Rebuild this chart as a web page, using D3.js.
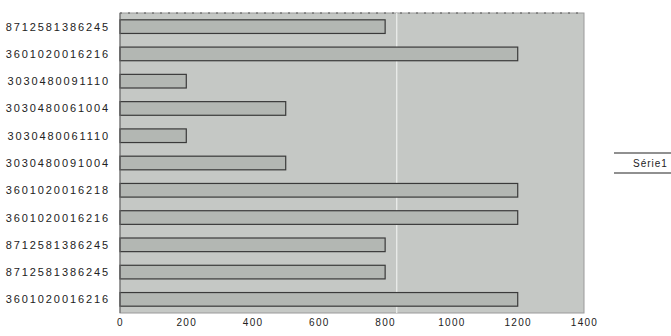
<!DOCTYPE html>
<html>
<head>
<meta charset="utf-8">
<script src="https://cdn.jsdelivr.net/npm/d3@7"></script>
<style>
  body { margin: 0; background: #fff; }
  text { font-family: "Liberation Sans", Arial, sans-serif; fill: #222; }
</style>
</head>
<body>
<script>
// data
var codes = ["8712581386245", "3601020016216", "3030480091110", "3030480061004",
             "3030480061110", "3030480091004", "3601020016218", "3601020016216",
             "8712581386245", "8712581386245", "3601020016216"];
var values = [800, 1200, 200, 500, 200, 500, 1200, 1200, 800, 800, 1200];
var xTicks = [0, 200, 400, 600, 800, 1000, 1200, 1400];
var seriesName = "Série1";

var width = 671, height = 336;
var plot = {left: 120, right: 584, top: 13, bottom: 313};

var svg = d3.select("body").append("svg")
  .attr("width", width)
  .attr("height", height);

var x = d3.scaleLinear().domain([0, 1400]).range([plot.left, plot.right]);
var y = d3.scaleBand()
  .domain(d3.range(codes.length))
  .range([plot.top, plot.bottom])
  .paddingInner(0.5)
  .paddingOuter(0.25);

// plot area
svg.append("rect")
  .attr("x", plot.left).attr("y", plot.top)
  .attr("width", plot.right - plot.left)
  .attr("height", plot.bottom - plot.top)
  .style("fill", "#c5c8c5")
  .style("stroke", "#9a9a9a")
  .style("stroke-width", 1);

// top border looks dotted in the scan
svg.append("line")
  .attr("x1", plot.left).attr("x2", plot.right)
  .attr("y1", plot.top).attr("y2", plot.top)
  .style("stroke", "#555")
  .style("stroke-dasharray", "2,6");

// scanner streak
svg.append("line")
  .attr("x1", x(835)).attr("x2", x(835))
  .attr("y1", plot.top).attr("y2", plot.bottom)
  .style("stroke", "#eef0ee")
  .style("stroke-width", 1.2);

// bars
svg.append("g").selectAll("rect")
  .data(values)
  .enter()
  .append("rect")
  .attr("x", x(0))
  .attr("y", (d, i) => y(i))
  .attr("width", d => x(d) - x(0))
  .attr("height", y.bandwidth())
  .style("fill", "#b3b7b3")
  .style("stroke", "#3a3a3a")
  .style("stroke-width", 1.2);

// left axis line
svg.append("line")
  .attr("x1", plot.left).attr("x2", plot.left)
  .attr("y1", plot.top).attr("y2", plot.bottom)
  .style("stroke", "#666");

// category labels
svg.append("g").selectAll("text")
  .data(codes)
  .enter()
  .append("text")
  .attr("x", 110)
  .attr("y", (d, i) => y(i) + y.bandwidth() / 2)
  .attr("dy", "0.36em")
  .attr("text-anchor", "end")
  .style("font-size", "11px")
  .style("letter-spacing", "1.9px")
  .text(d => d);

// x axis
var xAxis = d3.axisBottom(x).tickValues(xTicks).tickFormat(d3.format("d"))
  .tickSize(0).tickPadding(0);
var gx = svg.append("g")
  .attr("transform", "translate(0," + (plot.bottom + 4) + ")")
  .call(xAxis);
gx.select(".domain").remove();
gx.selectAll("text")
  .attr("y", 2)
  .attr("dy", "0.71em")
  .style("font-size", "10px")
  .style("letter-spacing", "1.3px")
  .style("font-family", "\"Liberation Sans\", Arial, sans-serif")
  .style("fill", "#222");

// legend
var legend = svg.append("g").attr("transform", "translate(614,153)");
legend.append("line")
  .attr("x1", 0).attr("x2", 60).attr("y1", 0).attr("y2", 0)
  .style("stroke", "#222").style("stroke-width", 1.2);
legend.append("line")
  .attr("x1", 0).attr("x2", 60).attr("y1", 20).attr("y2", 20)
  .style("stroke", "#222").style("stroke-width", 1.2);
legend.append("text")
  .attr("x", 19).attr("y", 10)
  .attr("dy", "0.36em")
  .style("font-size", "10px")
  .style("letter-spacing", "1px")
  .text(seriesName);
</script>
</body>
</html>
